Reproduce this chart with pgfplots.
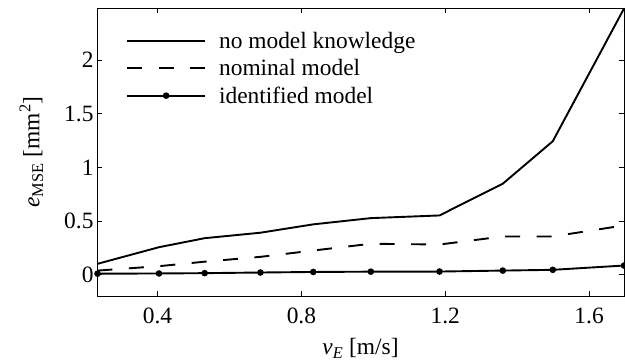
\documentclass[border=0pt]{standalone}
\usepackage{fontspec}
\setmainfont{Liberation Serif}
\usepackage{pgfplots}
\pgfplotsset{compat=1.18}
\pgfplotsset{mylegend/.style={legend image code/.code={\draw[mark repeat=2,mark phase=2,##1] plot coordinates {(0bp,0bp) (39bp,0bp) (78bp,0bp)};}}}
\begin{document}
\begin{tikzpicture}
\begin{axis}[
  name=ax,
  scale only axis,
  width=527bp, height=288bp,
  xmin=0.2316, xmax=1.697,
  ymin=-0.2, ymax=2.485,
  xtick={0.4,0.8,1.2,1.6},
  ytick={0,0.5,1,1.5,2},
  /pgf/number format/assume math mode=true,
  tick label style={font=\fontsize{23.5}{28}\selectfont},
  xticklabel style={yshift=-8bp},
  label style={font=\fontsize{23.5}{28}\selectfont},
  xlabel shift=8bp,
  ylabel shift=14bp,
  tick align=inside,
  major tick length=5bp,
  axis line style={line width=0.8bp},
  every tick/.style={black, line width=0.8bp},
  xlabel={\textit{v}\textsubscript{\textit{E}} [m/s]},
  ylabel={\textit{e}\textsubscript{MSE} [mm\textsuperscript{2}]},
  legend cell align=left,
  legend style={draw=none, fill=none, font=\fontsize{23.5}{28}\selectfont,
    at={(axis description cs:0,1)}, anchor=north west, xshift=29bp, yshift=-22bp,
    inner sep=0pt, row sep=5.5bp,
    /tikz/every odd column/.append style={column sep=11bp}},
]
\addplot[black, line width=1.9bp, mylegend] coordinates {
 (0.233,0.10) (0.404,0.255) (0.531,0.339) (0.686,0.39) (0.833,0.468)
 (0.993,0.526) (1.184,0.551) (1.360,0.847) (1.499,1.243) (1.697,2.48)};
\addlegendentry{no model knowledge}
\addplot[black, line width=1.9bp, dash pattern=on 15bp off 16.5bp, mylegend] coordinates {
 (0.233,0.037) (0.404,0.078) (0.531,0.12) (0.686,0.165) (0.833,0.224)
 (0.993,0.287) (1.184,0.28) (1.360,0.355) (1.499,0.355) (1.697,0.458)};
\addlegendentry{nominal model}
\addplot[black, line width=1.9bp, mark=*, mark size=2.3bp, mark options={solid}, mylegend] coordinates {
 (0.233,0.008) (0.404,0.01) (0.531,0.013) (0.686,0.019) (0.833,0.024)
 (0.993,0.027) (1.184,0.028) (1.360,0.037) (1.499,0.044) (1.697,0.084)};
\addlegendentry{identified model}
\end{axis}
\pgfresetboundingbox
\path ([shift={(-97bp,-68bp)}]ax.south west) rectangle ([shift={(1bp,8bp)}]ax.north east);
\end{tikzpicture}
\end{document}
